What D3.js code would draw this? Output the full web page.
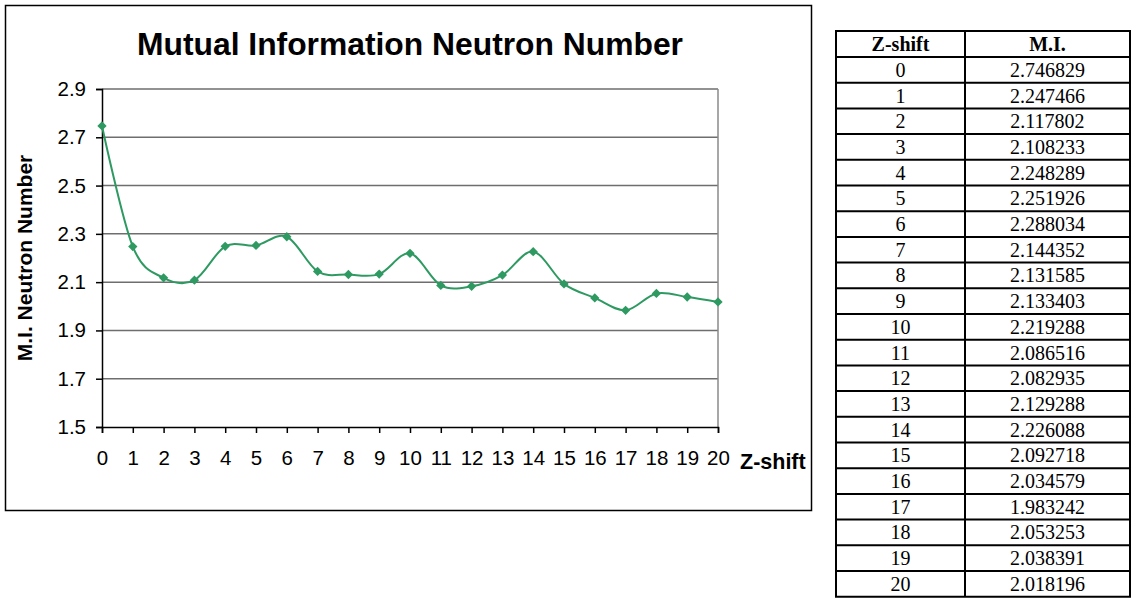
<!DOCTYPE html>
<html>
<head>
<meta charset="utf-8">
<script src="https://cdn.jsdelivr.net/npm/d3@7"></script>
<style>
  body { margin: 0; background: #fff; }
  svg { display: block; }
</style>
</head>
<body>
<div id="graf"></div>
<script>
const zShift = [0, 1, 2, 3, 4, 5, 6, 7, 8, 9, 10, 11, 12, 13, 14, 15, 16, 17, 18, 19, 20]
const miValues = [2.746829, 2.247466, 2.117802, 2.108233, 2.248289, 2.251926, 2.288034,
  2.144352, 2.131585, 2.133403, 2.219288, 2.086516, 2.082935, 2.129288, 2.226088,
  2.092718, 2.034579, 1.983242, 2.053253, 2.038391, 2.018196]
const yTicks = [1.5, 1.7, 1.9, 2.1, 2.3, 2.5, 2.7, 2.9]
const titulo = 'Mutual Information Neutron Number'
const tituloY = 'M.I. Neutron Number'
const tituloX = 'Z-shift'
const encabezados = ['Z-shift', 'M.I.']

const verde = '#2e9a62'
const fuente = 'Arial, "Liberation Sans", sans-serif'

const svg = d3.select('#graf')
  .append('svg')
  .attr('width', 1133)
  .attr('height', 601)

// marco del grafico
svg.append('rect')
  .attr('x', 5.5).attr('y', 5.5)
  .attr('width', 806).attr('height', 505)
  .attr('fill', '#fff')
  .attr('stroke', '#000')
  .attr('stroke-width', 1.5)

const margin = { top: 89, left: 102 }
const ancho = 616
const alto = 338

const g = svg.append('g')
  .attr('transform', `translate(${margin.left}, ${margin.top})`)

const x = d3.scaleLinear().domain([0, 20]).range([0, ancho])
const y = d3.scaleLinear().domain([1.5, 2.9]).range([alto, 0])

// rejilla
g.append('g')
  .selectAll('line')
  .data(yTicks.slice(1))
  .join('line')
  .attr('x1', 0).attr('x2', ancho)
  .attr('y1', (d) => y(d)).attr('y2', (d) => y(d))
  .attr('stroke', '#6e6e6e')
  .attr('stroke-width', 1.5)

g.append('line')
  .attr('x1', ancho).attr('x2', ancho)
  .attr('y1', 0).attr('y2', alto)
  .attr('stroke', '#8a8a8a')
  .attr('stroke-width', 1.5)

// ejes
const ejeY = g.append('g')
  .call(d3.axisLeft(y).tickValues(yTicks).tickSize(6).tickPadding(10).tickFormat(d3.format('.1f')))
ejeY.select('.domain').attr('stroke', '#000').attr('stroke-width', 1.5)
ejeY.selectAll('.tick line').attr('stroke', '#000').attr('stroke-width', 1.5)
ejeY.selectAll('text')
  .attr('font-family', fuente)
  .attr('font-size', 20.5)
  .attr('fill', '#000')

const ejeX = g.append('g')
  .attr('transform', `translate(0, ${alto})`)
  .call(d3.axisBottom(x).tickValues(zShift).tickSize(6).tickPadding(17.5).tickFormat(d3.format('d')))
ejeX.select('.domain').attr('stroke', '#000').attr('stroke-width', 1.5)
ejeX.selectAll('.tick line').attr('stroke', '#000').attr('stroke-width', 1.5)
ejeX.selectAll('text')
  .attr('font-family', fuente)
  .attr('font-size', 20.5)
  .attr('fill', '#000')

// linea suavizada
const linea = d3.line()
  .x((d, i) => x(zShift[i]))
  .y((d) => y(d))
  .curve(d3.curveCardinal.tension(0))

g.append('path')
  .datum(miValues)
  .attr('d', linea)
  .attr('fill', 'none')
  .attr('stroke', verde)
  .attr('stroke-width', 2)

g.selectAll('.punto')
  .data(miValues)
  .join('path')
  .attr('class', 'punto')
  .attr('d', d3.symbol().type(d3.symbolDiamond2).size(55))
  .attr('transform', (d, i) => `translate(${x(zShift[i])}, ${y(d)})`)
  .attr('fill', verde)

// titulos
svg.append('text')
  .attr('x', 410).attr('y', 55)
  .attr('text-anchor', 'middle')
  .attr('font-family', fuente)
  .attr('font-weight', 'bold')
  .attr('font-size', 31)
  .attr('textLength', 546)
  .attr('lengthAdjust', 'spacingAndGlyphs')
  .text(titulo)

svg.append('text')
  .attr('transform', `translate(32, ${margin.top + alto / 2}) rotate(-90)`)
  .attr('text-anchor', 'middle')
  .attr('font-family', fuente)
  .attr('font-weight', 'bold')
  .attr('font-size', 21)
  .text(tituloY)

svg.append('text')
  .attr('x', 740).attr('y', 469)
  .attr('font-family', fuente)
  .attr('font-weight', 'bold')
  .attr('font-size', 21.5)
  .text(tituloX)

// tabla
const tabla = svg.append('g')
const colX = [836, 965, 1130]
const filaTop = 31
const filaH0 = 26
const filaH = 25.7
const filasY = [filaTop, filaTop + filaH0].concat(zShift.map((d, i) => filaTop + filaH0 + (i + 1) * filaH))

tabla.selectAll('.hl')
  .data(filasY)
  .join('line')
  .attr('x1', colX[0] - 1).attr('x2', colX[2] + 1)
  .attr('y1', (d) => d).attr('y2', (d) => d)
  .attr('stroke', '#000')
  .attr('stroke-width', 2)

tabla.selectAll('.vl')
  .data(colX)
  .join('line')
  .attr('x1', (d) => d).attr('x2', (d) => d)
  .attr('y1', filasY[0]).attr('y2', filasY[filasY.length - 1])
  .attr('stroke', '#000')
  .attr('stroke-width', 2)

const fuenteTabla = '"Times New Roman", "Liberation Serif", serif'

tabla.selectAll('.enc')
  .data(encabezados)
  .join('text')
  .attr('x', (d, i) => (colX[i] + colX[i + 1]) / 2)
  .attr('y', filaTop + filaH0 / 2 + 7)
  .attr('text-anchor', 'middle')
  .attr('font-family', fuenteTabla)
  .attr('font-weight', 'bold')
  .attr('font-size', 20)
  .text((d) => d)

tabla.selectAll('.colz')
  .data(zShift)
  .join('text')
  .attr('x', (colX[0] + colX[1]) / 2)
  .attr('y', (d, i) => filasY[i + 1] + filaH / 2 + 7)
  .attr('text-anchor', 'middle')
  .attr('font-family', fuenteTabla)
  .attr('font-size', 20)
  .text((d) => d)

tabla.selectAll('.colmi')
  .data(miValues)
  .join('text')
  .attr('x', (colX[1] + colX[2]) / 2)
  .attr('y', (d, i) => filasY[i + 1] + filaH / 2 + 7)
  .attr('text-anchor', 'middle')
  .attr('font-family', fuenteTabla)
  .attr('font-size', 20)
  .text((d) => d3.format('.6f')(d))
</script>
</body>
</html>
